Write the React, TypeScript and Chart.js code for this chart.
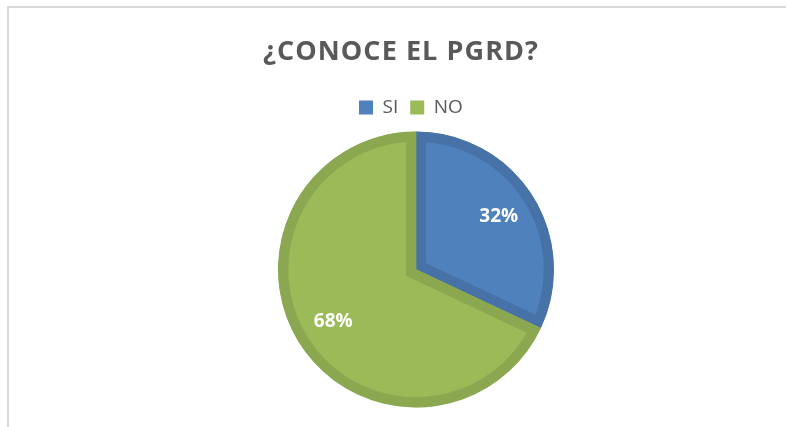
import React, { useEffect, useRef } from "react";
import { Chart, registerables } from "chart.js";

Chart.register(...registerables);

const TITLE = "¿CONOCE EL PGRD?";
const categories = ["SI", "NO"];
const values = [32, 68];
const fillColors = ["#4F81BD", "#9BBB59"];
const borderColors = ["#4672A8", "#8BA750"];

const framePlugin = {
  id: "frame",
  beforeDraw(chart: any) {
    const ctx = chart.ctx;
    ctx.save();
    ctx.fillStyle = "#FFFFFF";
    ctx.fillRect(0, 0, chart.width, chart.height);
    ctx.fillStyle = "#D9D9D9";
    ctx.fillRect(7, 6, chart.width - 7, 2);
    ctx.fillRect(7, 6, 2, chart.height - 6);
    ctx.restore();
  },
};

const titlePlugin = {
  id: "spacedTitle",
  afterDraw(chart: any) {
    const ctx = chart.ctx;
    ctx.save();
    ctx.font = "bold 27px 'Open Sans'";
    ctx.fillStyle = "#595959";
    ctx.textBaseline = "alphabetic";
    ctx.textAlign = "left";
    const target = 275;
    (ctx as any).letterSpacing = "0px";
    const w0 = ctx.measureText(TITLE).width;
    const n = Array.from(TITLE).length;
    const s = (target - w0) / (n - 1);
    (ctx as any).letterSpacing = s + "px";
    ctx.fillText(TITLE, 400.5 - target / 2, 60);
    ctx.restore();
  },
};

const legendShiftPlugin = {
  id: "legendShift",
  afterLayout(chart: any) {
    const lg = chart.legend;
    if (!lg || !lg.lineWidths) return;
    const pad = lg.options.labels.padding;
    const cur = (lg.left + pad + lg.right - lg.lineWidths[0]) / 2;
    const shift = 359 - cur;
    lg.left += shift;
    lg.right += shift;
  },
};

const labelPlugin = {
  id: "pctLabels",
  afterDatasetsDraw(chart: any) {
    const ctx = chart.ctx;
    const meta = chart.getDatasetMeta(0);
    const total = values.reduce((a, b) => a + b, 0);
    ctx.save();
    ctx.font = "bold 19px 'Open Sans'";
    ctx.fillStyle = "#FFFFFF";
    ctx.textAlign = "center";
    ctx.textBaseline = "middle";
    meta.data.forEach((arc: any, i: number) => {
      const p = arc.getProps(["x", "y", "startAngle", "endAngle", "outerRadius"], true);
      const mid = (p.startAngle + p.endAngle) / 2;
      const r = p.outerRadius * 0.71;
      const x = p.x + Math.cos(mid) * r;
      const y = p.y + Math.sin(mid) * r;
      ctx.fillText(Math.round((values[i] / total) * 100) + "%", x, y);
    });
    ctx.restore();
  },
};

export default function App() {
  const ref = useRef<HTMLCanvasElement | null>(null);
  useEffect(() => {
    if (!ref.current) return;
    const chart = new Chart(ref.current, {
      type: "pie",
      data: {
        labels: categories,
        datasets: [
          {
            data: values,
            backgroundColor: fillColors,
            borderColor: borderColors,
            borderWidth: 10,
            borderAlign: "inner",
            borderJoinStyle: "miter",
            radius: 138,
          } as any,
        ],
      },
      options: {
        responsive: false,
        animation: false,
        devicePixelRatio: 1,
        layout: { padding: { top: 86, left: 46, right: 0, bottom: 15 } },
        plugins: {
          title: { display: false },
          tooltip: { enabled: false },
          legend: {
            display: true,
            position: "top",
            labels: {
              boxWidth: 14,
              boxHeight: 14,
              padding: 12,
              color: "#595959",
              font: { family: "'Open Sans'", size: 19 },
              generateLabels: (c: any) =>
                categories.map((label, i) => ({
                  text: label,
                  fillStyle: fillColors[i],
                  strokeStyle: fillColors[i],
                  lineWidth: 0,
                  fontColor: "#595959",
                  hidden: false,
                  index: i,
                  datasetIndex: 0,
                })),
            },
          },
        },
      } as any,
      plugins: [framePlugin, legendShiftPlugin, labelPlugin, titlePlugin],
    });
    return () => chart.destroy();
  }, []);
  return (
    <div style={{ position: "absolute", left: 0, top: 0, width: 786, height: 427 }}>
      <canvas ref={ref} width={786} height={427} style={{ width: 786, height: 427 }} />
    </div>
  );
}
